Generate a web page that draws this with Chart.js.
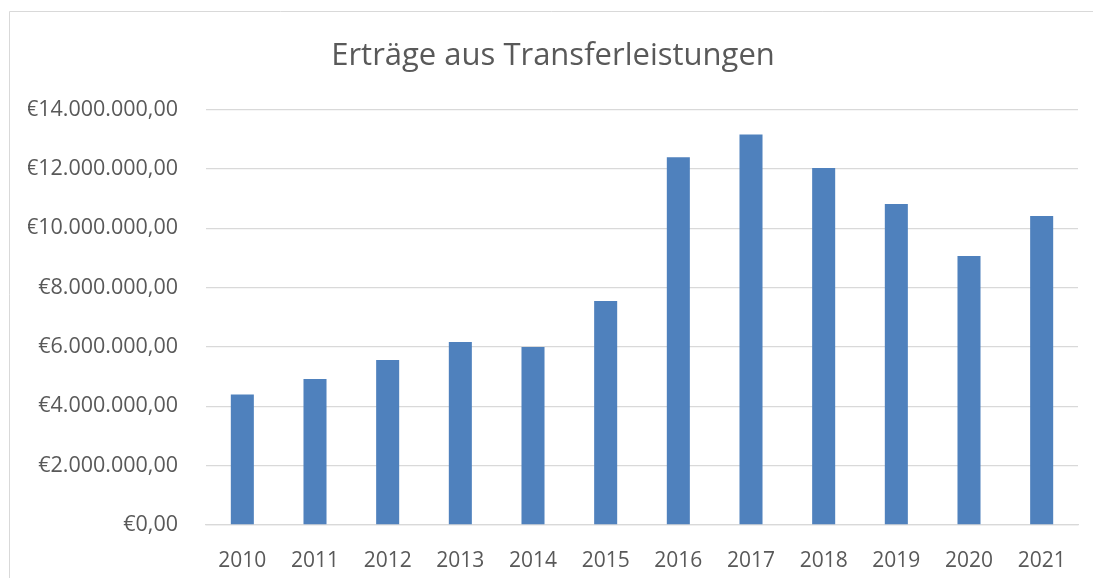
<!DOCTYPE html>
<html><head><meta charset="utf-8">
<script src="https://cdn.jsdelivr.net/npm/chart.js@4"></script>
<style>html,body{margin:0;padding:0;background:#fff;overflow:hidden}
canvas{display:block}</style></head>
<body><canvas id="c" width="1093" height="578"></canvas>
<script>
const categories = ['2010','2011','2012','2013','2014','2015','2016','2017','2018','2019','2020','2021'];
const values = [4400000, 4920000, 5560000, 6170000, 6000000, 7550000, 12390000, 13160000, 12030000, 10820000, 9060000, 10410000];
const yTickValues = [0, 2000000, 4000000, 6000000, 8000000, 10000000, 12000000, 14000000];
const chartTitle = 'Erträge aus Transferleistungen';

function formatEuro(v) {
  const s = Math.round(v).toString().replace(/\B(?=(\d{3})+(?!\d))/g, '.');
  return '€' + s + ',00';
}

const FONT = "'Open Sans', sans-serif";
const TXT = '#595959';

const borderPlugin = {
  id: 'frame',
  beforeDraw(chart) {
    const c = chart.ctx;
    c.save();
    c.strokeStyle = '#d9d9d9';
    c.lineWidth = 1;
    c.beginPath();
    c.moveTo(9.5, 578); c.lineTo(9.5, 11.5); c.lineTo(1093, 11.5);
    c.stroke();
    c.restore();
  }
};

new Chart(document.getElementById('c'), {
  type: 'bar',
  data: {
    labels: categories,
    datasets: [{
      data: values,
      backgroundColor: '#4F81BD',
      borderWidth: 0,
      categoryPercentage: 1,
      barPercentage: 0.317
    }]
  },
  options: {
    responsive: false,
    animation: false,
    devicePixelRatio: 1,
    layout: { padding: { left: 28, right: 15, top: 0, bottom: 0 } },
    plugins: {
      legend: { display: false },
      tooltip: { enabled: false },
      title: {
        display: true,
        text: chartTitle,
        color: TXT,
        font: { family: FONT, size: 31, weight: 'normal' },
        padding: { top: 37.9, bottom: 34.4 }
      }
    },
    scales: {
      x: {
        grid: { display: false },
        border: { display: true, color: '#d9d9d9', width: 1.3 },
        ticks: { color: TXT, font: { family: FONT, size: 21 }, padding: 15, maxRotation: 0 },
        afterFit(s) { s.height = 53; }
      },
      y: {
        min: 0, max: 14000000,
        afterBuildTicks(s) { s.ticks = yTickValues.map(v => ({ value: v })); },
        grid: { color: '#d9d9d9', lineWidth: 1.3, drawTicks: false },
        border: { display: false },
        ticks: { color: TXT, font: { family: FONT, size: 21.5 }, padding: 28, callback: v => formatEuro(v) },
        afterFit(s) { s.width = 178; }
      }
    }
  },
  plugins: [borderPlugin]
});
</script></body></html>
